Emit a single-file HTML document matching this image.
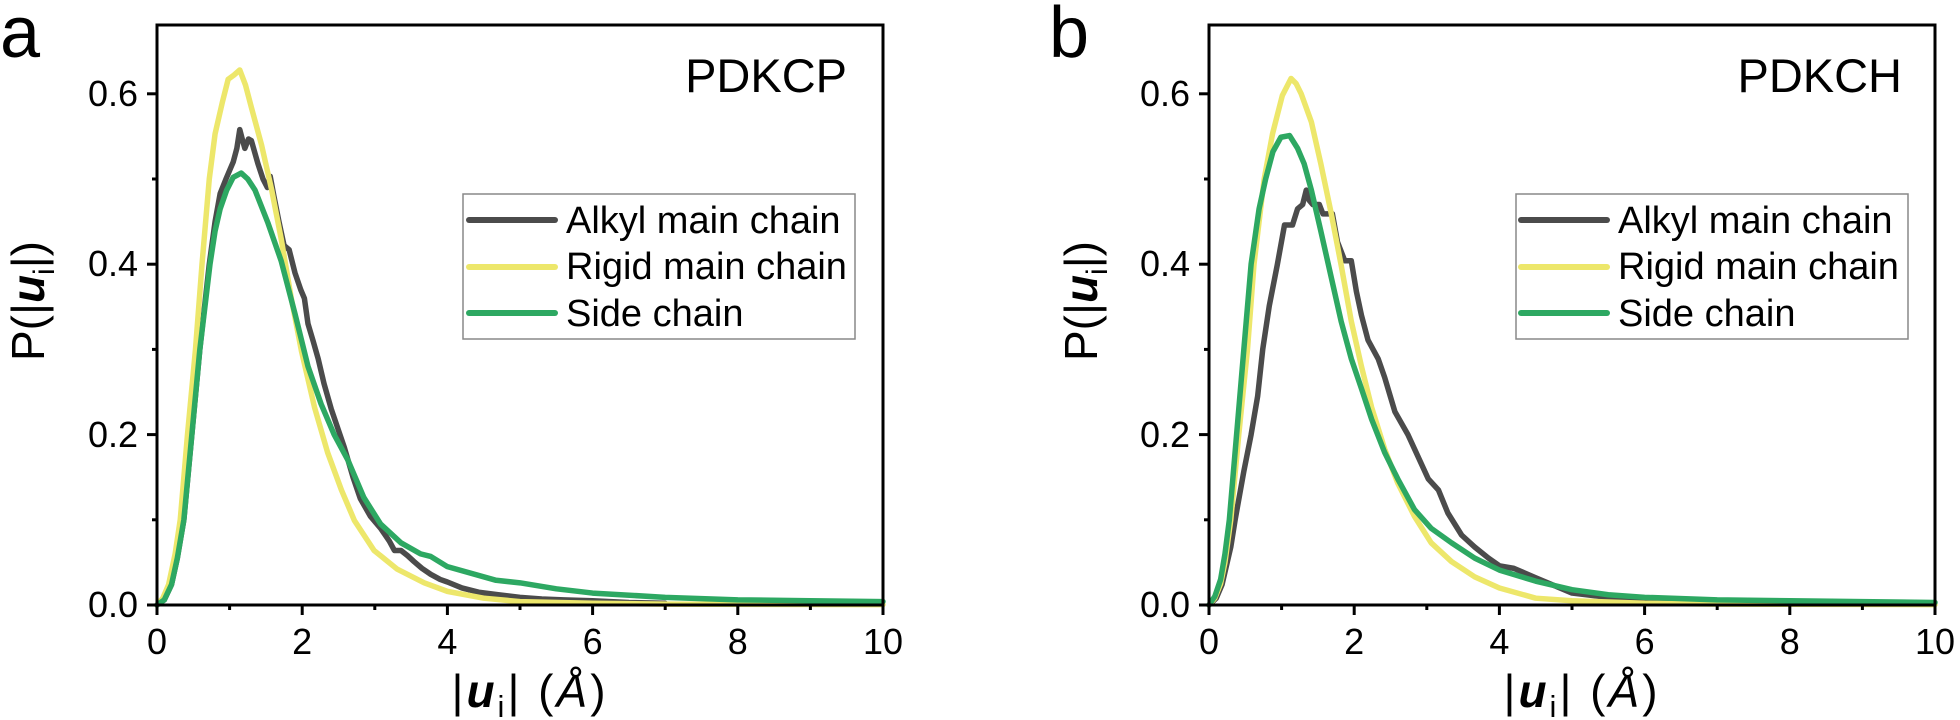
<!DOCTYPE html>
<html>
<head>
<meta charset="utf-8">
<style>
html,body{margin:0;padding:0;background:#fff;}
svg{display:block;}
text{font-family:"Liberation Sans",Arial,sans-serif;fill:#000;}
</style>
</head>
<body>
<svg width="1960" height="720" viewBox="0 0 1960 720" xmlns="http://www.w3.org/2000/svg">
<rect x="0" y="0" width="1960" height="720" fill="#fff"/>

<!-- ============ PANEL A ============ -->
<text x="0" y="57" font-size="72">a</text>

<g transform="translate(157,605) scale(72.6,-852)" fill="none" stroke-linejoin="round" stroke-linecap="round">
<polyline vector-effect="non-scaling-stroke" stroke="#4b4b4b" stroke-width="5.5" points="0,0 0.1,0.006 0.2,0.024 0.28,0.055 0.37,0.1 0.48,0.2 0.59,0.3 0.72,0.4 0.8,0.45 0.87,0.483 0.95,0.5 1.0,0.51 1.05,0.52 1.1,0.536 1.14,0.558 1.18,0.545 1.21,0.536 1.26,0.547 1.3,0.545 1.39,0.518 1.46,0.5 1.52,0.49 1.56,0.503 1.61,0.48 1.68,0.45 1.75,0.422 1.82,0.417 1.9,0.39 1.98,0.37 2.03,0.36 2.08,0.33 2.15,0.31 2.22,0.289 2.3,0.26 2.4,0.23 2.5,0.205 2.58,0.185 2.7,0.15 2.8,0.125 2.94,0.104 3.08,0.09 3.2,0.075 3.27,0.064 3.36,0.064 3.45,0.058 3.54,0.051 3.65,0.043 3.77,0.036 3.9,0.03 4.0,0.027 4.2,0.02 4.43,0.015 4.7,0.012 5,0.009 5.3,0.007 5.6,0.006 6,0.005 6.5,0.003 7,0.002"/>
<polyline vector-effect="non-scaling-stroke" stroke="#ede76b" stroke-width="5.5" points="0,0 0.08,0.008 0.16,0.024 0.25,0.06 0.32,0.1 0.42,0.2 0.53,0.3 0.62,0.4 0.72,0.5 0.8,0.553 0.9,0.59 0.98,0.617 1.06,0.622 1.14,0.628 1.22,0.61 1.3,0.584 1.44,0.54 1.58,0.487 1.71,0.43 1.85,0.36 1.99,0.298 2.17,0.232 2.35,0.179 2.54,0.135 2.72,0.099 2.99,0.064 3.31,0.042 3.68,0.026 4.0,0.016 4.5,0.008 5,0.004 6,0.002 7,0.001 10,0.0005"/>
<polyline vector-effect="non-scaling-stroke" stroke="#2da862" stroke-width="5.5" points="0,0 0.1,0.006 0.2,0.024 0.28,0.055 0.37,0.1 0.48,0.2 0.59,0.3 0.73,0.4 0.8,0.439 0.87,0.465 0.96,0.487 1.05,0.502 1.16,0.507 1.25,0.5 1.35,0.487 1.53,0.448 1.71,0.404 1.9,0.342 2.08,0.28 2.26,0.236 2.44,0.2 2.63,0.17 2.85,0.126 3.08,0.095 3.36,0.073 3.63,0.06 3.77,0.057 4.0,0.045 4.67,0.029 5.0,0.026 5.5,0.019 6,0.014 7,0.009 8,0.006 9,0.005 10,0.004"/>
</g>

<rect x="157" y="25" width="726" height="580" fill="none" stroke="#000" stroke-width="3"/>
<g stroke="#000" stroke-width="3">
<line x1="147" y1="605" x2="157" y2="605"/>
<line x1="147" y1="434.6" x2="157" y2="434.6"/>
<line x1="147" y1="264.2" x2="157" y2="264.2"/>
<line x1="147" y1="93.8" x2="157" y2="93.8"/>
<line x1="152" y1="519.8" x2="157" y2="519.8"/>
<line x1="152" y1="349.4" x2="157" y2="349.4"/>
<line x1="152" y1="179" x2="157" y2="179"/>
<line x1="157" y1="605" x2="157" y2="615"/>
<line x1="302.2" y1="605" x2="302.2" y2="615"/>
<line x1="447.4" y1="605" x2="447.4" y2="615"/>
<line x1="592.6" y1="605" x2="592.6" y2="615"/>
<line x1="737.8" y1="605" x2="737.8" y2="615"/>
<line x1="883" y1="605" x2="883" y2="615"/>
<line x1="229.6" y1="605" x2="229.6" y2="610"/>
<line x1="374.8" y1="605" x2="374.8" y2="610"/>
<line x1="520" y1="605" x2="520" y2="610"/>
<line x1="665.2" y1="605" x2="665.2" y2="610"/>
<line x1="810.4" y1="605" x2="810.4" y2="610"/>
</g>
<g font-size="36" text-anchor="end">
<text x="138" y="617">0.0</text>
<text x="138" y="447">0.2</text>
<text x="138" y="276">0.4</text>
<text x="138" y="106">0.6</text>
</g>
<g font-size="36" text-anchor="middle">
<text x="157" y="654">0</text>
<text x="302.2" y="654">2</text>
<text x="447.4" y="654">4</text>
<text x="592.6" y="654">6</text>
<text x="737.8" y="654">8</text>
<text x="883" y="654">10</text>
</g>
<text x="530" y="707" font-size="46" letter-spacing="3" text-anchor="middle">|<tspan font-weight="bold" font-style="italic">u</tspan><tspan font-size="31" dy="10">i</tspan><tspan dy="-10">| (</tspan><tspan font-style="italic">Å</tspan>)</text>
<text transform="translate(44,301) rotate(-90)" font-size="46" text-anchor="middle">P(|<tspan font-weight="bold" font-style="italic">u</tspan><tspan font-size="30" dy="10">i</tspan><tspan dy="-10">|)</tspan></text>

<text x="847" y="92" font-size="47" text-anchor="end">PDKCP</text>

<rect x="463" y="194" width="392" height="145" fill="#fff" stroke="#888" stroke-width="1.5"/>
<g stroke-width="6" stroke-linecap="round">
<line x1="469" y1="220" x2="555" y2="220" stroke="#4b4b4b"/>
<line x1="469" y1="267" x2="555" y2="267" stroke="#ede76b"/>
<line x1="469" y1="313" x2="555" y2="313" stroke="#2da862"/>
</g>
<g font-size="38">
<text x="566" y="233">Alkyl main chain</text>
<text x="566" y="279">Rigid main chain</text>
<text x="566" y="326">Side chain</text>
</g>

<!-- ============ PANEL B ============ -->
<text x="1049" y="57" font-size="72">b</text>

<g transform="translate(1209,605) scale(72.6,-852)" fill="none" stroke-linejoin="round" stroke-linecap="round">
<polyline vector-effect="non-scaling-stroke" stroke="#4b4b4b" stroke-width="5.5" points="0,0 0.1,0.008 0.18,0.024 0.3,0.068 0.36,0.1 0.48,0.157 0.58,0.2 0.67,0.245 0.74,0.3 0.83,0.351 0.94,0.399 1.04,0.446 1.15,0.446 1.22,0.465 1.29,0.47 1.34,0.487 1.38,0.475 1.43,0.47 1.52,0.47 1.57,0.459 1.7,0.459 1.77,0.426 1.87,0.404 1.96,0.404 2.03,0.368 2.1,0.34 2.19,0.311 2.33,0.289 2.42,0.267 2.56,0.227 2.74,0.2 2.88,0.174 3.02,0.148 3.16,0.135 3.29,0.108 3.48,0.082 3.66,0.068 3.85,0.055 4.0,0.046 4.2,0.043 4.5,0.032 5,0.014 5.5,0.009 6,0.006 6.5,0.004 7,0.002"/>
<polyline vector-effect="non-scaling-stroke" stroke="#ede76b" stroke-width="5.5" points="0,0 0.08,0.008 0.16,0.025 0.22,0.05 0.3,0.1 0.41,0.2 0.53,0.3 0.62,0.4 0.76,0.5 0.875,0.553 1.01,0.598 1.13,0.618 1.2,0.612 1.27,0.6 1.41,0.567 1.54,0.518 1.68,0.461 1.82,0.399 1.96,0.333 2.1,0.28 2.24,0.232 2.42,0.183 2.6,0.143 2.83,0.104 3.06,0.073 3.34,0.051 3.66,0.033 4.0,0.02 4.5,0.008 5,0.005 6,0.002 7,0.001 10,0.0005"/>
<polyline vector-effect="non-scaling-stroke" stroke="#2da862" stroke-width="5.5" points="0,0 0.08,0.01 0.16,0.03 0.22,0.06 0.28,0.1 0.38,0.2 0.48,0.3 0.58,0.4 0.69,0.465 0.78,0.5 0.88,0.532 0.99,0.549 1.11,0.551 1.22,0.536 1.31,0.518 1.41,0.487 1.54,0.439 1.68,0.386 1.82,0.333 1.96,0.289 2.1,0.254 2.24,0.218 2.42,0.179 2.6,0.148 2.83,0.112 3.06,0.09 3.34,0.073 3.66,0.055 4.0,0.041 4.5,0.028 5,0.018 5.5,0.012 6,0.009 7,0.006 8,0.005 9,0.004 10,0.003"/>
</g>

<rect x="1209" y="25" width="726" height="580" fill="none" stroke="#000" stroke-width="3"/>
<g stroke="#000" stroke-width="3">
<line x1="1199" y1="605" x2="1209" y2="605"/>
<line x1="1199" y1="434.6" x2="1209" y2="434.6"/>
<line x1="1199" y1="264.2" x2="1209" y2="264.2"/>
<line x1="1199" y1="93.8" x2="1209" y2="93.8"/>
<line x1="1204" y1="519.8" x2="1209" y2="519.8"/>
<line x1="1204" y1="349.4" x2="1209" y2="349.4"/>
<line x1="1204" y1="179" x2="1209" y2="179"/>
<line x1="1209" y1="605" x2="1209" y2="615"/>
<line x1="1354.2" y1="605" x2="1354.2" y2="615"/>
<line x1="1499.4" y1="605" x2="1499.4" y2="615"/>
<line x1="1644.6" y1="605" x2="1644.6" y2="615"/>
<line x1="1789.8" y1="605" x2="1789.8" y2="615"/>
<line x1="1935" y1="605" x2="1935" y2="615"/>
<line x1="1281.6" y1="605" x2="1281.6" y2="610"/>
<line x1="1426.8" y1="605" x2="1426.8" y2="610"/>
<line x1="1572" y1="605" x2="1572" y2="610"/>
<line x1="1717.2" y1="605" x2="1717.2" y2="610"/>
<line x1="1862.4" y1="605" x2="1862.4" y2="610"/>
</g>
<g font-size="36" text-anchor="end">
<text x="1190" y="617">0.0</text>
<text x="1190" y="447">0.2</text>
<text x="1190" y="276">0.4</text>
<text x="1190" y="106">0.6</text>
</g>
<g font-size="36" text-anchor="middle">
<text x="1209" y="654">0</text>
<text x="1354.2" y="654">2</text>
<text x="1499.4" y="654">4</text>
<text x="1644.6" y="654">6</text>
<text x="1789.8" y="654">8</text>
<text x="1935" y="654">10</text>
</g>
<text x="1582" y="707" font-size="46" letter-spacing="3" text-anchor="middle">|<tspan font-weight="bold" font-style="italic">u</tspan><tspan font-size="31" dy="10">i</tspan><tspan dy="-10">| (</tspan><tspan font-style="italic">Å</tspan>)</text>
<text transform="translate(1097,301) rotate(-90)" font-size="46" text-anchor="middle">P(|<tspan font-weight="bold" font-style="italic">u</tspan><tspan font-size="30" dy="10">i</tspan><tspan dy="-10">|)</tspan></text>

<text x="1902" y="92" font-size="47" text-anchor="end">PDKCH</text>

<rect x="1516" y="194" width="392" height="145" fill="#fff" stroke="#888" stroke-width="1.5"/>
<g stroke-width="6" stroke-linecap="round">
<line x1="1521" y1="220" x2="1607" y2="220" stroke="#4b4b4b"/>
<line x1="1521" y1="267" x2="1607" y2="267" stroke="#ede76b"/>
<line x1="1521" y1="313" x2="1607" y2="313" stroke="#2da862"/>
</g>
<g font-size="38">
<text x="1618" y="233">Alkyl main chain</text>
<text x="1618" y="279">Rigid main chain</text>
<text x="1618" y="326">Side chain</text>
</g>
</svg>
</body>
</html>
